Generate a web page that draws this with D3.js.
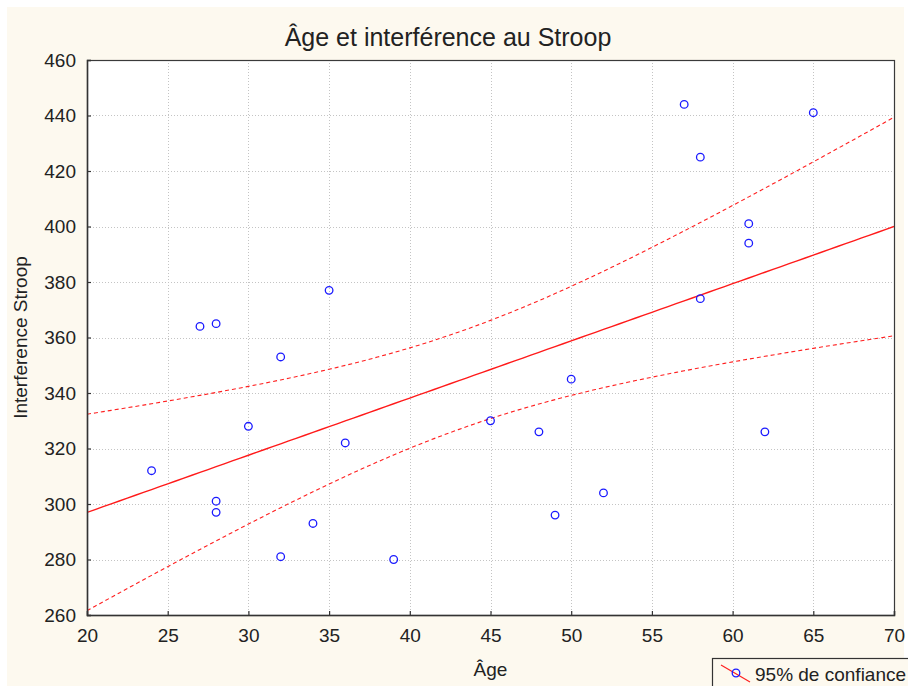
<!DOCTYPE html>
<html>
<head>
<meta charset="utf-8">
<script src="https://cdn.jsdelivr.net/npm/d3@7"></script>
<style>
  html, body { margin: 0; padding: 0; background: #ffffff; }
  svg { display: block; }
  text { font-family: "Liberation Sans", Arial, sans-serif; fill: #222; }
</style>
</head>
<body>
<svg id="chart" width="908" height="686"></svg>
<script>
// ---- Data ----
const ages = [24, 27, 28, 28, 28, 30, 32, 32, 34, 35, 36, 39, 45, 48, 49, 50, 52, 57, 58, 58, 61, 61, 62, 65];
const stroop = [312, 364, 365, 301, 297, 328, 353, 281, 293, 377, 322, 280, 330, 326, 296, 345, 304, 444, 425, 374, 401, 394, 326, 441];
const xTicks = [20, 25, 30, 35, 40, 45, 50, 55, 60, 65, 70];
const yTicks = [260, 280, 300, 320, 340, 360, 380, 400, 420, 440, 460];
const titleText = "Âge et interférence au Stroop";
const xLabel = "Âge";
const yLabel = "Interference Stroop";
const legendLabel = "95% de confiance";
const tCrit = 2.0739; // Student t, 22 df, 95%

// ---- Linear regression with 95% confidence band (derived from the points) ----
const n = ages.length;
const mx = d3.mean(ages), my = d3.mean(stroop);
const sxx = d3.sum(ages, a => (a - mx) * (a - mx));
const sxy = d3.sum(ages, (a, i) => (a - mx) * (stroop[i] - my));
const slope = sxy / sxx;
const intercept = my - slope * mx;
const sse = d3.sum(ages, (a, i) => Math.pow(stroop[i] - (intercept + slope * a), 2));
const sRes = Math.sqrt(sse / (n - 2));
const fitX = d3.range(xTicks[0], xTicks[xTicks.length - 1] + 0.001, 0.5);
const fit = fitX.map(a => {
  const yh = intercept + slope * a;
  const h = tCrit * sRes * Math.sqrt(1 / n + (a - mx) * (a - mx) / sxx);
  return { a, yh, lo: yh - h, hi: yh + h };
});

// ---- Layout ----
const svg = d3.select("#chart");
const W = 908, H = 686;
const m = { left: 87, top: 60, right: 894, bottom: 615 };

svg.append("rect").attr("x", 7).attr("y", 7).attr("width", 897).attr("height", H - 7)
  .attr("fill", "#fdf9ef");

const x = d3.scaleLinear().domain([20, 70]).range([m.left, m.right]);
const y = d3.scaleLinear().domain([260, 460]).range([m.bottom, m.top]);

svg.append("rect").attr("x", m.left).attr("y", m.top)
  .attr("width", m.right - m.left).attr("height", m.bottom - m.top)
  .attr("fill", "#ffffff");

// grid
const grid = svg.append("g").attr("stroke", "#c4c4c4").attr("stroke-width", 1)
  .attr("stroke-dasharray", "1,2");
grid.selectAll("line.v").data(xTicks.slice(1, -1)).join("line")
  .attr("x1", d => Math.round(x(d)) + 0.5).attr("x2", d => Math.round(x(d)) + 0.5)
  .attr("y1", m.top).attr("y2", m.bottom);
grid.selectAll("line.h").data(yTicks.slice(1, -1)).join("line")
  .attr("y1", d => Math.round(y(d)) + 0.5).attr("y2", d => Math.round(y(d)) + 0.5)
  .attr("x1", m.left).attr("x2", m.right);

// clip
svg.append("clipPath").attr("id", "clip").append("rect")
  .attr("x", m.left).attr("y", m.top).attr("width", m.right - m.left).attr("height", m.bottom - m.top);
const plot = svg.append("g").attr("clip-path", "url(#clip)");

const lineHi = d3.line().x(d => x(d.a)).y(d => y(d.hi));
const lineLo = d3.line().x(d => x(d.a)).y(d => y(d.lo));
const lineFit = d3.line().x(d => x(d.a)).y(d => y(d.yh));

plot.append("path").datum(fit).attr("d", lineHi).attr("fill", "none")
  .attr("stroke", "#ff2020").attr("stroke-width", 1.1).attr("stroke-dasharray", "4,3");
plot.append("path").datum(fit).attr("d", lineLo).attr("fill", "none")
  .attr("stroke", "#ff2020").attr("stroke-width", 1.1).attr("stroke-dasharray", "4,3");
plot.append("path").datum(fit).attr("d", lineFit).attr("fill", "none")
  .attr("stroke", "#ff1a1a").attr("stroke-width", 1.4);

// points
plot.selectAll("circle.pt").data(ages.map((a, i) => ({ a, v: stroop[i] }))).join("circle")
  .attr("class", "pt")
  .attr("cx", d => x(d.a)).attr("cy", d => y(d.v)).attr("r", 3.8)
  .attr("fill", "none").attr("stroke", "#1a1aff").attr("stroke-width", 1.3);

// frame
svg.append("rect").attr("x", m.left + 0.5).attr("y", m.top + 0.5)
  .attr("width", m.right - m.left).attr("height", m.bottom - m.top)
  .attr("fill", "none").attr("stroke", "#3a3a3a").attr("stroke-width", 1.2);

// axes
const xAxis = d3.axisBottom(x).tickValues(xTicks).tickSize(-4).tickPadding(14).tickFormat(d3.format("d"));
const yAxis = d3.axisLeft(y).tickValues(yTicks).tickSize(-4).tickPadding(11).tickFormat(d3.format("d"));
const gx = svg.append("g").attr("transform", `translate(0,${m.bottom})`).call(xAxis);
const gy = svg.append("g").attr("transform", `translate(${m.left},0)`).call(yAxis);
[gx, gy].forEach(g => {
  g.select(".domain").attr("stroke", "#333").attr("stroke-width", 1.5);
  g.selectAll(".tick line").attr("stroke", "#333").attr("stroke-width", 1.2);
  g.selectAll(".tick text").style("font-family", '"Liberation Sans", Arial, sans-serif')
    .style("font-size", "19px").attr("fill", "#222");
});

// title
svg.append("text").attr("x", 448).attr("y", 46).attr("text-anchor", "middle")
  .style("font-size", "25px").text(titleText);

// axis labels
svg.append("text").attr("x", (m.left + m.right) / 2).attr("y", 676).attr("text-anchor", "middle")
  .style("font-size", "19px").text(xLabel);
svg.append("text").attr("transform", `translate(27,${(m.top + m.bottom) / 2}) rotate(-90)`)
  .attr("text-anchor", "middle").style("font-size", "19px").text(yLabel);

// legend
const lg = svg.append("g");
lg.append("rect").attr("x", 712.5).attr("y", 658.5).attr("width", 220).attr("height", 60)
  .attr("fill", "#fdf9ef").attr("stroke", "#333").attr("stroke-width", 1.2);
lg.append("line").attr("x1", 721).attr("y1", 665).attr("x2", 750).attr("y2", 682)
  .attr("stroke", "#ff2020").attr("stroke-width", 1.2);
lg.append("circle").attr("cx", 736).attr("cy", 673).attr("r", 3.8)
  .attr("fill", "none").attr("stroke", "#1a1aff").attr("stroke-width", 1.3);
lg.append("text").attr("x", 755).attr("y", 681).style("font-size", "19px").text(legendLabel);
</script>
</body>
</html>
